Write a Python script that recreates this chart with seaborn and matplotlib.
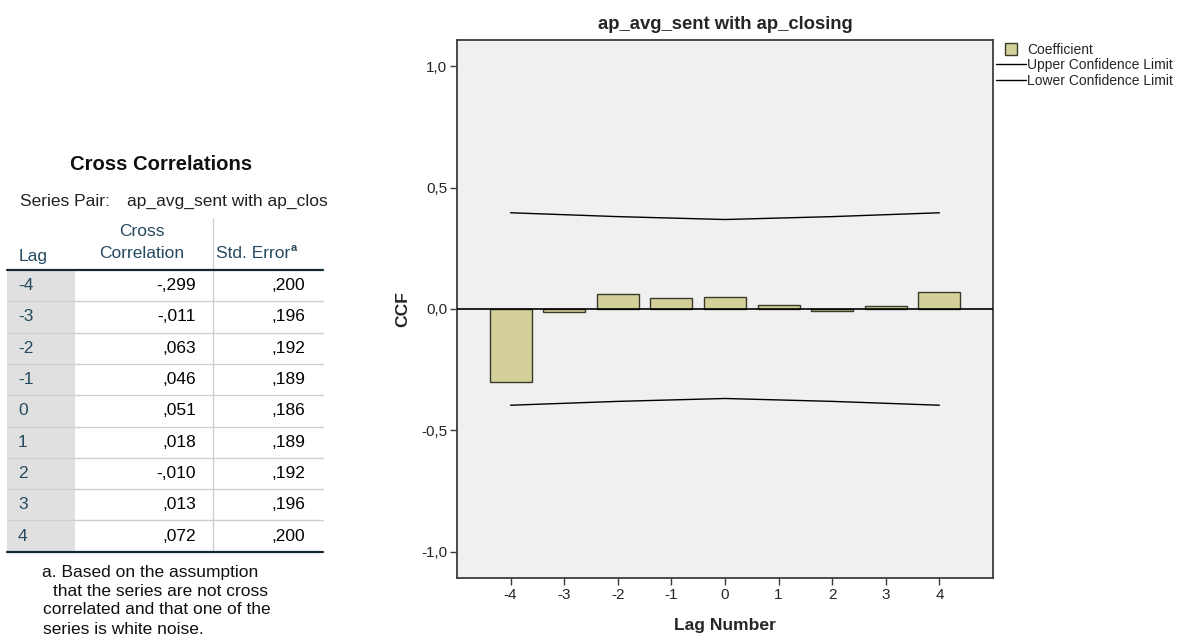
import numpy as np
import pandas as pd
import matplotlib
matplotlib.use("Agg")
import matplotlib.pyplot as plt
from matplotlib.lines import Line2D
from matplotlib.patches import Rectangle
from matplotlib.ticker import FuncFormatter
import seaborn as sns

lags = [-4, -3, -2, -1, 0, 1, 2, 3, 4]
cross_corr = [-0.299, -0.011, 0.063, 0.046, 0.051, 0.018, -0.010, 0.013, 0.072]
std_err = [0.200, 0.196, 0.192, 0.189, 0.186, 0.189, 0.192, 0.196, 0.200]
y_ticks = [-1.0, -0.5, 0.0, 0.5, 1.0]
conf_mult = 1.98  # limits as drawn in the chart (about 2 std. errors)

chart_title = "ap_avg_sent with ap_closing"
table_title = "Cross Correlations"
series_pair = "ap_avg_sent with ap_clos"
footnote = ["a. Based on the assumption",
            "that the series are not cross",
            "correlated and that one of the",
            "series is white noise."]

df = pd.DataFrame({"lag": lags, "ccf": cross_corr, "se": std_err})
df["upper"] = conf_mult * df["se"]
df["lower"] = -conf_mult * df["se"]

sns.set_style("white")
plt.rcParams["font.family"] = ["Liberation Sans", "DejaVu Sans"]

BAR = "#D3D09A"
HEAD = "#264A60"
SPINE = "#3c3c3c"


def spss_num(v):
    s = f"{abs(v):.3f}"[1:].replace(".", ",")
    return ("-" if v < 0 else "") + s


fig = plt.figure(figsize=(11.79, 6.41), dpi=100)

# pixel-space overlay for the pivot table
tax = fig.add_axes([0, 0, 1, 1])
tax.set_xlim(0, 1179)
tax.set_ylim(641, 0)
tax.axis("off")

tax.text(161, 165, table_title, ha="center", va="center", fontsize=14.6, fontweight="bold", color="#111111")
tax.text(20, 201, "Series Pair:", ha="left", va="center", fontsize=12.5, color="#222222")
tax.text(127, 201, series_pair, ha="left", va="center", fontsize=12.5, color="#222222")

tax.text(19, 257, "Lag", ha="left", va="center", fontsize=12.5, color=HEAD)
tax.text(142, 232, "Cross", ha="center", va="center", fontsize=12.5, color=HEAD)
tax.text(142, 254, "Correlation", ha="center", va="center", fontsize=12.5, color=HEAD)
tax.text(290, 254, "Std. Error", ha="right", va="center", fontsize=12.5, color=HEAD)
tax.text(291, 248, "a", ha="left", va="center", fontsize=8, fontweight="bold", color=HEAD)

top, row_h = 270, 31.3
n = len(lags)
tax.add_patch(Rectangle((7, top), 68, row_h * n, facecolor="#E0E0E0", edgecolor="none"))
tax.plot([213, 213], [218, top + row_h * n], color="#D0D0D0", lw=1)
for k in range(1, n):
    tax.plot([7, 323], [top + row_h * k] * 2, color="#CFCFCF", lw=1)
tax.plot([7, 323], [top, top], color="#152935", lw=1.6)
tax.plot([7, 323], [top + row_h * n] * 2, color="#152935", lw=1.6)

for k, (lg, cc, se) in enumerate(zip(lags, cross_corr, std_err)):
    yc = top + row_h * (k + 0.5)
    tax.text(18, yc, str(lg), ha="left", va="center", fontsize=12.5, color=HEAD)
    tax.text(196, yc, spss_num(cc), ha="right", va="center", fontsize=12.5, color="#010205")
    tax.text(305, yc, spss_num(se), ha="right", va="center", fontsize=12.5, color="#010205")

foot_x = [42, 53, 43, 43]
foot_y = [572, 591, 610, 629]
for line, fx, fy in zip(footnote, foot_x, foot_y):
    tax.text(fx, fy, line, ha="left", va="center", fontsize=12.5, color="#111111")

# the CCF chart
ax = fig.add_axes([457 / 1179, 1 - 578 / 641, 536 / 1179, 538 / 641])
ax.set_facecolor("#F0F0F0")

sns.barplot(data=df, x="lag", y="ccf", native_scale=True, width=0.78, color=BAR,
            saturation=1, edgecolor="#3a3a2a", linewidth=1, ax=ax, zorder=3)
sns.lineplot(data=df, x="lag", y="upper", color="black", lw=1, ax=ax, zorder=3)
sns.lineplot(data=df, x="lag", y="lower", color="black", lw=1, ax=ax, zorder=3)
ax.axhline(0, color="black", lw=1.2, zorder=4)

ax.set_xlim(-5, 5)
ax.set_ylim(-1.107, 1.107)
ax.set_xticks(lags)
ax.set_xticklabels([str(l) for l in lags])
ax.set_yticks(y_ticks)
ax.yaxis.set_major_formatter(FuncFormatter(lambda v, p: f"{v:.1f}".replace(".", ",")))
ax.tick_params(axis="both", direction="out", length=5, width=1, color=SPINE,
               labelsize=11, pad=2, left=True, bottom=True)
for sp in ax.spines.values():
    sp.set_color(SPINE)
    sp.set_linewidth(1.3)

ax.set_title(chart_title, fontsize=13.3, fontweight="bold", pad=8)
ax.set_xlabel("Lag Number", fontsize=12.6, fontweight="bold", labelpad=12)
ax.set_ylabel("CCF", fontsize=12.6, fontweight="bold", labelpad=8)

handles = [
    Line2D([], [], marker="s", linestyle="None", markersize=8, markerfacecolor=BAR,
           markeredgecolor="#3a3a2a", markeredgewidth=1),
    Line2D([], [], color="black", lw=1),
    Line2D([], [], color="black", lw=1),
]
ax.legend(handles, ["Coefficient", "Upper Confidence Limit", "Lower Confidence Limit"],
          loc="upper left", bbox_to_anchor=(1.0, 1.0), frameon=False, borderaxespad=0,
          borderpad=0.2, handlelength=2.2, handletextpad=0.05, labelspacing=0.1, fontsize=10)

fig.savefig("out.png", dpi=100)
